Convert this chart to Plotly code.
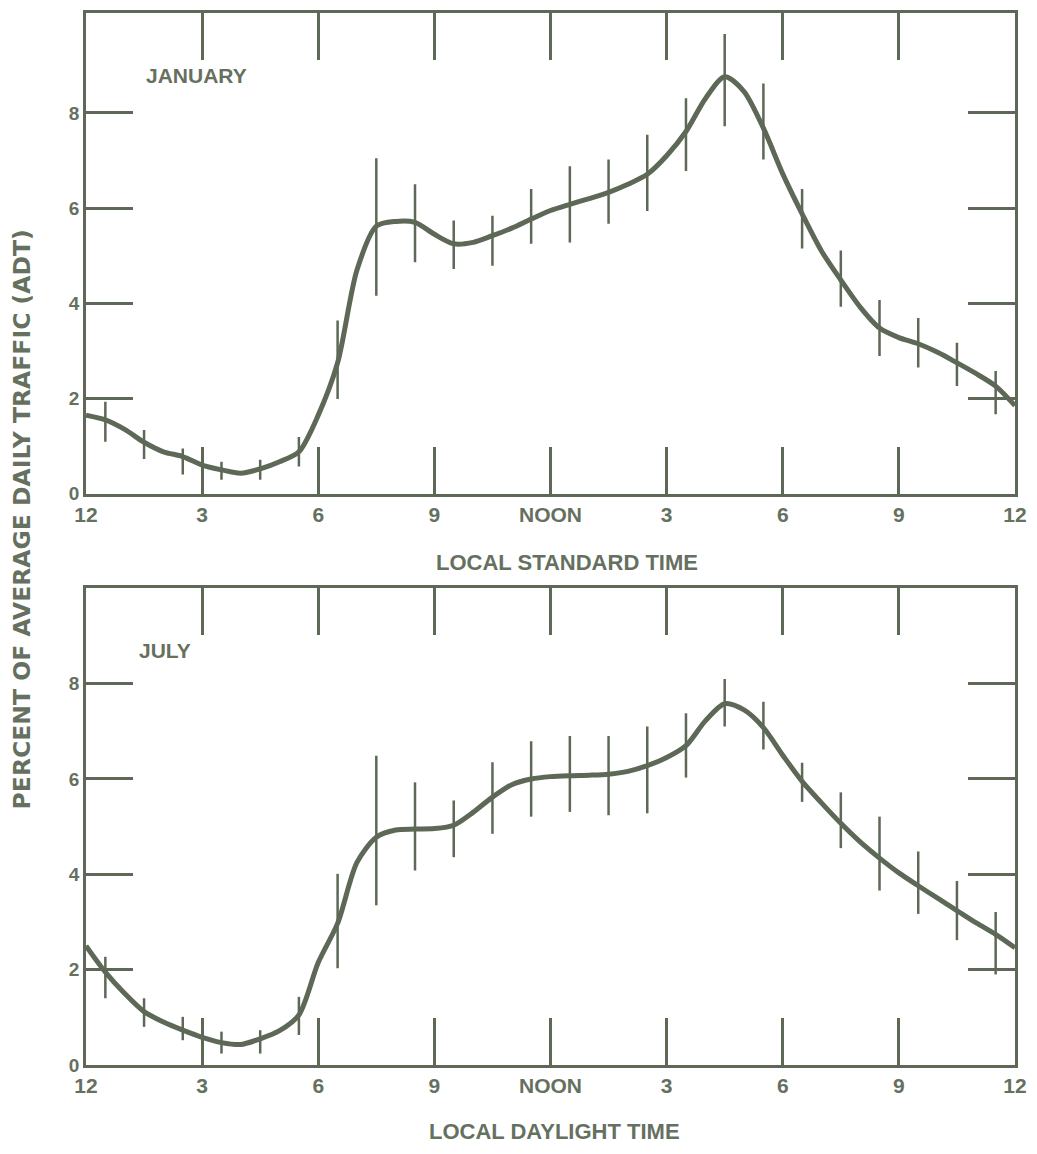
import plotly.graph_objects as go

# hours of the day (0 = midnight, 12 = noon)
hours = [0, 0.5, 1, 1.5, 2, 2.5, 3, 3.5, 4, 4.5, 5, 5.5, 6, 6.5, 7, 7.5, 8, 8.5,
         9, 9.5, 10, 10.5, 11, 11.5, 12, 12.5, 13, 13.5, 14, 14.5, 15, 15.5, 16,
         16.5, 17, 17.5, 18, 18.5, 19, 19.5, 20, 20.5, 21, 21.5, 22, 22.5, 23,
         23.5, 24]

jan_curve = [1.65, 1.55, 1.35, 1.08, 0.88, 0.78, 0.60, 0.50, 0.43, 0.52, 0.67,
             0.88, 1.65, 2.75, 4.70, 5.62, 5.72, 5.70, 5.45, 5.25, 5.28, 5.42,
             5.58, 5.77, 5.95, 6.08, 6.20, 6.33, 6.50, 6.71, 7.10, 7.61, 8.30,
             8.76, 8.45, 7.68, 6.72, 5.88, 5.10, 4.49, 3.92, 3.48, 3.28, 3.15,
             2.97, 2.75, 2.52, 2.26, 1.85]

jul_curve = [2.50, 1.95, 1.50, 1.12, 0.90, 0.73, 0.58, 0.47, 0.43, 0.55, 0.72,
             1.05, 2.15, 2.97, 4.25, 4.78, 4.93, 4.95, 4.96, 5.03, 5.30, 5.62,
             5.88, 6.00, 6.05, 6.07, 6.08, 6.10, 6.16, 6.28, 6.45, 6.70, 7.22,
             7.58, 7.45, 7.08, 6.50, 5.95, 5.50, 5.07, 4.68, 4.34, 4.03, 3.76,
             3.50, 3.24, 2.98, 2.74, 2.46]

# range bars, one per hour
bar_hours = [0.5, 1.5, 2.5, 3.5, 4.5, 5.5, 6.5, 7.5, 8.5, 9.5, 10.5, 11.5, 12.5,
             13.5, 14.5, 15.5, 16.5, 17.5, 18.5, 19.5, 20.5, 21.5, 22.5, 23.5]

jan_low = [1.09, 0.73, 0.40, 0.29, 0.29, 0.57, 1.99, 4.16, 4.86, 4.72, 4.79, 5.25,
           5.28, 5.67, 5.94, 6.78, 7.72, 7.02, 5.15, 3.93, 2.89, 2.65, 2.26, 1.67]
jan_high = [1.93, 1.34, 0.95, 0.67, 0.71, 1.19, 3.64, 7.05, 6.50, 5.74, 5.84, 6.40,
            6.88, 7.02, 7.54, 8.31, 9.66, 8.62, 6.40, 5.11, 4.07, 3.69, 3.17, 2.58]

jul_low = [1.40, 0.80, 0.52, 0.24, 0.24, 0.63, 2.03, 3.35, 4.08, 4.36, 4.85, 5.21,
           5.31, 5.24, 5.28, 6.03, 7.10, 6.62, 5.52, 4.55, 3.66, 3.17, 2.62, 1.90]
jul_high = [2.27, 1.40, 1.01, 0.70, 0.73, 1.43, 4.01, 6.49, 5.93, 5.55, 6.35, 6.79,
            6.90, 6.90, 7.10, 7.38, 8.10, 7.62, 6.34, 5.72, 5.21, 4.48, 3.86, 3.21]

x_tickvals = [0, 3, 6, 9, 12, 15, 18, 21, 24]
x_ticktext = ["12", "3", "6", "9", "NOON", "3", "6", "9", "12"]
y_tickvals = [0, 2, 4, 6, 8]

INK = "#5d6857"
TEXT = "#66705f"
FONT = "Liberation Sans, Arial, sans-serif"

fig = go.Figure()


def add_panel(curve, low, high, xa, ya):
    fig.add_trace(go.Scatter(
        x=bar_hours,
        y=low,
        mode="markers",
        marker=dict(size=0.1, color=INK),
        error_y=dict(
            type="data",
            symmetric=False,
            array=[h - l for h, l in zip(high, low)],
            arrayminus=[0] * len(low),
            color=INK,
            thickness=2.5,
            width=0,
        ),
        xaxis=xa,
        yaxis=ya,
        showlegend=False,
        hoverinfo="skip",
    ))
    fig.add_trace(go.Scatter(
        x=hours,
        y=curve,
        mode="lines",
        line=dict(color=INK, width=5, shape="spline", smoothing=0.8),
        xaxis=xa,
        yaxis=ya,
        showlegend=False,
    ))


add_panel(jan_curve, jan_low, jan_high, "x", "y")
add_panel(jul_curve, jul_low, jul_high, "x2", "y2")

xaxis_style = dict(
    range=[0, 24],
    tickvals=x_tickvals,
    ticktext=x_ticktext,
    ticks="inside",
    ticklen=47,
    tickwidth=2.5,
    tickcolor=INK,
    showline=True,
    linewidth=2.5,
    linecolor=INK,
    mirror="ticks",
    showgrid=False,
    zeroline=False,
    ticklabeloverflow="allow",
    tickfont=dict(family=FONT, size=21, color=TEXT, weight="bold"),
)

yaxis_style = dict(
    tickvals=y_tickvals,
    ticks="inside",
    ticklen=47,
    tickwidth=2.5,
    tickcolor=INK,
    showline=True,
    linewidth=2.5,
    linecolor=INK,
    mirror="ticks",
    showgrid=False,
    zeroline=False,
    tickfont=dict(family=FONT, size=19, color=TEXT, weight="bold"),
)

# the page body adds an 8px margin all round, so the figure is sized to fit inside it
fig.update_layout(
    width=1021,
    height=1138,
    margin=dict(l=78, r=12, t=2, b=81),
    paper_bgcolor="white",
    plot_bgcolor="white",
    xaxis=dict(xaxis_style, domain=[0, 1], anchor="y"),
    yaxis=dict(yaxis_style, domain=[0.5431, 1], range=[0, 10.1], anchor="x"),
    xaxis2=dict(xaxis_style, domain=[0, 1], anchor="y2"),
    yaxis2=dict(yaxis_style, domain=[0, 0.4531], range=[0, 10.0], anchor="x2"),
)

fig.add_annotation(
    text="PERCENT OF AVERAGE DAILY TRAFFIC (ADT)",
    xref="paper", yref="paper", x=-0.0685, y=0.519,
    xanchor="center", yanchor="middle",
    textangle=-90, showarrow=False,
    font=dict(family="DejaVu Sans, sans-serif", size=23.5, color=TEXT, weight="bold"),
)
fig.add_annotation(
    text="LOCAL STANDARD TIME",
    xref="paper", yref="paper", x=0.518, y=0.4777,
    xanchor="center", yanchor="middle",
    showarrow=False,
    font=dict(family=FONT, size=22, color=TEXT, weight="bold"),
)
fig.add_annotation(
    text="LOCAL DAYLIGHT TIME",
    xref="paper", yref="paper", x=0.504, y=-0.0635,
    xanchor="center", yanchor="middle",
    showarrow=False,
    font=dict(family=FONT, size=22, color=TEXT, weight="bold"),
)
fig.add_annotation(
    text="JANUARY", xref="x", yref="y", x=2.85, y=8.78,
    xanchor="center", yanchor="middle",
    showarrow=False,
    font=dict(family=FONT, size=21, color=TEXT, weight="bold"),
)
fig.add_annotation(
    text="JULY", xref="x2", yref="y2", x=2.03, y=8.69,
    xanchor="center", yanchor="middle",
    showarrow=False,
    font=dict(family=FONT, size=21, color=TEXT, weight="bold"),
)

fig.write_html("out.html")
